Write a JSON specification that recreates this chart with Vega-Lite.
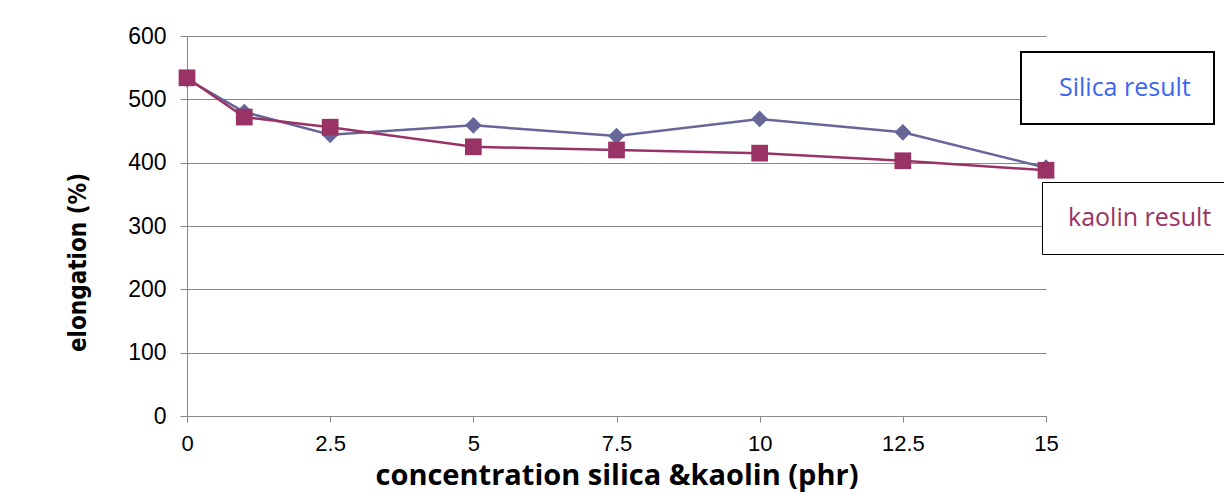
{
  "$schema": "https://vega.github.io/schema/vega-lite/v6.json",
  "width": 859,
  "height": 380,
  "autosize": {"type": "none"},
  "padding": {"left": 187, "top": 36, "right": 178, "bottom": 77},
  "background": "white",
  "config": {"view": {"stroke": null}},
  "data": {
    "values": [
      {"x": 0, "elongation": 532, "series": "Silica result", "label": "Silica result"},
      {"x": 1, "elongation": 480, "series": "Silica result", "label": "Silica result"},
      {"x": 2.5, "elongation": 444, "series": "Silica result", "label": "Silica result"},
      {"x": 5, "elongation": 459, "series": "Silica result", "label": "Silica result"},
      {"x": 7.5, "elongation": 442, "series": "Silica result", "label": "Silica result"},
      {"x": 10, "elongation": 469, "series": "Silica result", "label": "Silica result"},
      {"x": 12.5, "elongation": 448, "series": "Silica result", "label": "Silica result"},
      {"x": 15, "elongation": 392, "series": "Silica result", "label": "Silica result"},
      {"x": 0, "elongation": 534, "series": "kaolin result", "label": "kaolin result"},
      {"x": 1, "elongation": 472, "series": "kaolin result", "label": "kaolin result"},
      {"x": 2.5, "elongation": 456, "series": "kaolin result", "label": "kaolin result"},
      {"x": 5, "elongation": 425, "series": "kaolin result", "label": "kaolin result"},
      {"x": 7.5, "elongation": 420, "series": "kaolin result", "label": "kaolin result"},
      {"x": 10, "elongation": 415, "series": "kaolin result", "label": "kaolin result"},
      {"x": 12.5, "elongation": 403, "series": "kaolin result", "label": "kaolin result"},
      {"x": 15, "elongation": 388, "series": "kaolin result", "label": "kaolin result"}
    ]
  },
  "encoding": {
    "x": {
      "field": "x",
      "type": "quantitative",
      "scale": {"domain": [0, 15], "nice": false, "zero": false},
      "axis": {
        "values": [0, 2.5, 5, 7.5, 10, 12.5, 15],
        "labelExpr": "format(datum.value, '.1~f')",
        "grid": false,
        "domainColor": "#888888",
        "tickColor": "#888888",
        "tickSize": 6,
        "labelFont": "Liberation Sans",
        "labelFontSize": 22,
        "labelColor": "black",
        "labelPadding": 11,
        "labelFlush": false,
        "title": "concentration silica &kaolin (phr)",
        "titleFont": "Open Sans",
        "titleFontSize": 29,
        "titleFontWeight": "bold",
        "titleColor": "black",
        "titleBaseline": "alphabetic",
        "titleY": 68
      }
    },
    "y": {
      "field": "elongation",
      "type": "quantitative",
      "scale": {"domain": [0, 600], "nice": false},
      "axis": {
        "values": [0, 100, 200, 300, 400, 500, 600],
        "format": "d",
        "grid": true,
        "gridColor": "#888888",
        "gridWidth": 1,
        "domainColor": "#888888",
        "tickColor": "#888888",
        "tickSize": 7,
        "labelFont": "Liberation Sans",
        "labelFontSize": 23,
        "labelColor": "black",
        "labelPadding": 14,
        "title": "elongation (%)",
        "titleFont": "'DejaVu Sans Condensed', 'Liberation Sans', sans-serif",
        "titleFontSize": 24,
        "titleFontWeight": "bold",
        "titleColor": "black",
        "titleAngle": 270,
        "titleAlign": "center",
        "titleBaseline": "alphabetic",
        "titleX": -102,
        "titleY": 226
      }
    }
  },
  "layer": [
    {
      "mark": {"type": "line", "strokeWidth": 2.5},
      "encoding": {
        "color": {
          "field": "series",
          "type": "nominal",
          "scale": {"domain": ["Silica result", "kaolin result"], "range": ["#666699", "#993366"]},
          "legend": {
            "values": ["Silica result"],
            "title": null,
            "orient": "none",
            "legendX": 834,
            "legendY": 16,
            "strokeColor": "black",
            "fillColor": "white",
            "padding": 23,
            "symbolOpacity": 0,
            "labelOffset": -10,
            "labelFont": "Open Sans",
            "labelFontSize": 25,
            "labelColor": "#3d66f2",
            "labelLimit": 400,
            "encode": {"legend": {"update": {"strokeWidth": {"value": 2}}}}
          }
        }
      }
    },
    {
      "mark": {"type": "point", "filled": true, "opacity": 1, "size": 280},
      "encoding": {
        "color": {"field": "series", "type": "nominal"},
        "shape": {
          "field": "label",
          "type": "nominal",
          "scale": {"range": ["diamond", "square"]},
          "legend": {
            "values": ["kaolin result"],
            "title": null,
            "orient": "none",
            "legendX": 855,
            "legendY": 146,
            "strokeColor": "black",
            "fillColor": "white",
            "padding": 23,
            "symbolOpacity": 0,
            "labelOffset": -22,
            "labelFont": "Open Sans",
            "labelFontSize": 25,
            "labelColor": "#993366",
            "labelLimit": 400,
            "encode": {"legend": {"update": {"strokeWidth": {"value": 2}}}}
          }
        }
      }
    }
  ]
}
